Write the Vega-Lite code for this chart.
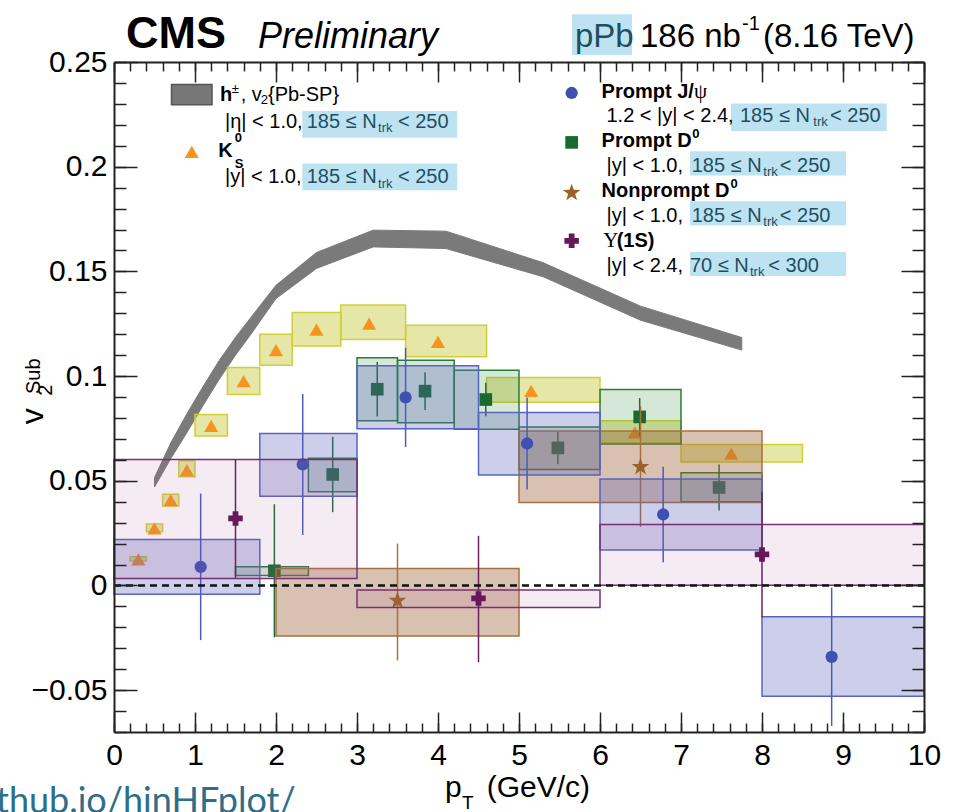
{
  "$schema": "https://vega.github.io/schema/vega-lite/v6.json",
  "width": 810,
  "height": 670,
  "autosize": {"type": "none"},
  "padding": {"left": 114, "top": 62, "right": 29, "bottom": 80},
  "background": "white",
  "config": {"view": {"stroke": null}, "font": "Liberation Sans"},
  "datasets": {
    "band": [
      {"x": 0.5, "lo": 0.047, "hi": 0.0515},
      {"x": 0.7, "lo": 0.0605, "hi": 0.068},
      {"x": 0.9, "lo": 0.073, "hi": 0.082},
      {"x": 1.1, "lo": 0.086, "hi": 0.095},
      {"x": 1.3, "lo": 0.0985, "hi": 0.1075},
      {"x": 1.5, "lo": 0.11, "hi": 0.1185},
      {"x": 1.7, "lo": 0.1205, "hi": 0.1285},
      {"x": 2.0, "lo": 0.137, "hi": 0.1434},
      {"x": 2.5, "lo": 0.1514, "hi": 0.159},
      {"x": 3.2, "lo": 0.1617, "hi": 0.1697},
      {"x": 4.1, "lo": 0.1609, "hi": 0.1692},
      {"x": 5.3, "lo": 0.1474, "hi": 0.1541},
      {"x": 6.5, "lo": 0.1267, "hi": 0.1334},
      {"x": 7.75, "lo": 0.1124, "hi": 0.1184}
    ],
    "ks": [
      {"x": 0.3, "y": 0.0124, "x1": 0.2, "x2": 0.4, "s1": 0.0117, "s2": 0.0137},
      {"x": 0.5, "y": 0.0272, "x1": 0.4, "x2": 0.6, "s1": 0.0256, "s2": 0.0293},
      {"x": 0.7, "y": 0.0407, "x1": 0.6, "x2": 0.8, "s1": 0.0379, "s2": 0.0435},
      {"x": 0.9, "y": 0.0551, "x1": 0.8, "x2": 1.0, "s1": 0.0519, "s2": 0.0594},
      {"x": 1.2, "y": 0.0762, "x1": 1.0, "x2": 1.4, "s1": 0.0714, "s2": 0.0817},
      {"x": 1.6, "y": 0.0976, "x1": 1.4, "x2": 1.8, "s1": 0.0912, "s2": 0.1041},
      {"x": 2.0, "y": 0.1124, "x1": 1.8, "x2": 2.2, "s1": 0.1052, "s2": 0.12},
      {"x": 2.5, "y": 0.1222, "x1": 2.2, "x2": 2.8, "s1": 0.1144, "s2": 0.1304},
      {"x": 3.15, "y": 0.1251, "x1": 2.8, "x2": 3.6, "s1": 0.1175, "s2": 0.1339},
      {"x": 4.0, "y": 0.1163, "x1": 3.6, "x2": 4.6, "s1": 0.1092, "s2": 0.1243},
      {"x": 5.15, "y": 0.0929, "x1": 4.6, "x2": 6.0, "s1": 0.0875, "s2": 0.0993},
      {"x": 6.43, "y": 0.0731, "x1": 6.0, "x2": 7.0, "s1": 0.068, "s2": 0.0786},
      {"x": 7.62, "y": 0.063, "x1": 7.0, "x2": 8.5, "s1": 0.059, "s2": 0.0673},
      {"x": 0.96, "y": 0.2071}
    ],
    "d0": [
      {"x": 1.98, "y": 0.007, "lo": -0.0248, "hi": 0.0388, "x1": 1.5, "x2": 2.4, "s1": 0.0048, "s2": 0.0089},
      {"x": 2.7, "y": 0.053, "lo": 0.035, "hi": 0.071, "x1": 2.4, "x2": 3.0, "s1": 0.0447, "s2": 0.0607},
      {"x": 3.25, "y": 0.0937, "lo": 0.0807, "hi": 0.1067, "x1": 3.0, "x2": 3.5, "s1": 0.0787, "s2": 0.1087},
      {"x": 3.84, "y": 0.0928, "lo": 0.0838, "hi": 0.1018, "x1": 3.5, "x2": 4.2, "s1": 0.0777, "s2": 0.1076},
      {"x": 4.59, "y": 0.0888, "lo": 0.0808, "hi": 0.0968, "x1": 4.2, "x2": 5.0, "s1": 0.0746, "s2": 0.1028},
      {"x": 5.48, "y": 0.0657, "lo": 0.0579, "hi": 0.0735, "x1": 5.0, "x2": 6.0, "s1": 0.0554, "s2": 0.0757},
      {"x": 6.49, "y": 0.0805, "lo": 0.0715, "hi": 0.0895, "x1": 6.0, "x2": 7.0, "s1": 0.0675, "s2": 0.0936},
      {"x": 7.47, "y": 0.0468, "lo": 0.0358, "hi": 0.0578, "x1": 7.0, "x2": 8.0, "s1": 0.04, "s2": 0.0538},
      {"x": 5.65, "y": 0.2116}
    ],
    "np": [
      {"x": 3.5, "y": -0.0073, "lo": -0.0358, "hi": 0.02, "x1": 2.0, "x2": 5.0, "s1": -0.0242, "s2": 0.0081},
      {"x": 6.5, "y": 0.0566, "lo": 0.028, "hi": 0.0856, "x1": 5.0, "x2": 8.0, "s1": 0.0396, "s2": 0.0738},
      {"x": 5.65, "y": 0.1875}
    ],
    "jpsi": [
      {"x": 1.07, "y": 0.0089, "lo": -0.0261, "hi": 0.0439, "x1": 0.0, "x2": 1.8, "s1": -0.0042, "s2": 0.022},
      {"x": 2.33, "y": 0.0578, "lo": 0.0241, "hi": 0.0915, "x1": 1.8, "x2": 3.0, "s1": 0.0426, "s2": 0.0726},
      {"x": 3.6, "y": 0.0898, "lo": 0.0661, "hi": 0.1135, "x1": 3.0, "x2": 4.5, "s1": 0.0748, "s2": 0.1049},
      {"x": 5.1, "y": 0.0678, "lo": 0.0458, "hi": 0.0898, "x1": 4.5, "x2": 6.0, "s1": 0.0528, "s2": 0.0826},
      {"x": 6.78, "y": 0.0339, "lo": 0.0111, "hi": 0.0567, "x1": 6.0, "x2": 8.0, "s1": 0.0169, "s2": 0.0508},
      {"x": 8.86, "y": -0.0341, "lo": -0.0671, "hi": -0.0011, "x1": 8.0, "x2": 10.0, "s1": -0.0529, "s2": -0.015},
      {"x": 5.65, "y": 0.2352}
    ],
    "ups": [
      {"x": 1.5, "y": 0.032, "lo": 0.0036, "hi": 0.0602, "x1": 0.0, "x2": 3.0, "s1": 0.0033, "s2": 0.0602},
      {"x": 4.5, "y": -0.0062, "lo": -0.0367, "hi": 0.0237, "x1": 3.0, "x2": 6.0, "s1": -0.0105, "s2": -0.0022},
      {"x": 8.0, "y": 0.0148, "lo": -0.0152, "hi": 0.0448, "x1": 6.0, "x2": 10.0, "s1": 0.0001, "s2": 0.0291},
      {"x": 5.65, "y": 0.1646}
    ],
    "zero": [{"x": 0, "x2": 10, "y": 0}],
    "bandKey": [{"x1": 0.71, "x2": 1.21, "s1": 0.2296, "s2": 0.2393}],
    "highlight": [
      {"x1": 2.325, "x2": 4.238, "s1": 0.2138, "s2": 0.2266},
      {"x1": 2.325, "x2": 4.238, "s1": 0.1888, "s2": 0.2015},
      {"x1": 7.617, "x2": 9.539, "s1": 0.2171, "s2": 0.2302},
      {"x1": 7.111, "x2": 9.037, "s1": 0.1958, "s2": 0.2074},
      {"x1": 7.111, "x2": 9.037, "s1": 0.172, "s2": 0.1835},
      {"x1": 7.111, "x2": 9.037, "s1": 0.1478, "s2": 0.1593},
      {"x1": 5.654, "x2": 6.395, "s1": 0.2533, "s2": 0.2728}
    ],
    "cms": [{"x": 0.148, "y": 0.2566, "t": "CMS"}],
    "prelim": [{"x": 1.778, "y": 0.2566, "t": "Preliminary"}],
    "system": [{"x": 5.691, "y": 0.2571, "t": "pPb"}],
    "lumi": [
      {"x": 6.494, "y": 0.2571, "t": "186 nb"},
      {"x": 8.012, "y": 0.2571, "t": "(8.16 TeV)"}
    ],
    "lumiSup": [{"x": 7.753, "y": 0.2652, "t": "-1"}],
    "xTitle": [
      {"x": 4.086, "y": -0.1011, "t": "p"},
      {"x": 4.601, "y": -0.1011, "t": "(GeV/c)"}
    ],
    "xTitleSub": [{"x": 4.296, "y": -0.1068, "t": "T"}],
    "yTitle": [{"x": -0.877, "y": 0.077, "t": "v"}],
    "yTitleSmall": [
      {"x": -0.765, "y": 0.0906, "t": "2"},
      {"x": -0.914, "y": 0.0914, "t": "Sub"}
    ],
    "legBold": [
      {"x": 1.309, "y": 0.2314, "t": "h"},
      {"x": 1.287, "y": 0.2044, "t": "K"},
      {"x": 6.02, "y": 0.2326, "t": "Prompt J/"},
      {"x": 6.02, "y": 0.2092, "t": "Prompt D"},
      {"x": 6.02, "y": 0.1856, "t": "Nonprompt D"},
      {"x": 6.206, "y": 0.1617, "t": "(1S)"}
    ],
    "legBoldSmall": [
      {"x": 1.49, "y": 0.2117, "t": "0"},
      {"x": 1.49, "y": 0.1996, "t": "S"},
      {"x": 7.14, "y": 0.2135, "t": "0"},
      {"x": 7.61, "y": 0.1896, "t": "0"}
    ],
    "legText": [
      {"x": 1.564, "y": 0.2314, "t": ", v"},
      {"x": 1.901, "y": 0.2314, "t": "{Pb-SP}"},
      {"x": 1.37, "y": 0.2187, "t": "|η| < 1.0,"},
      {"x": 1.37, "y": 0.192, "t": "|y| < 1.0,"},
      {"x": 6.08, "y": 0.2214, "t": "1.2 < |y| < 2.4,"},
      {"x": 6.08, "y": 0.1975, "t": "|y| < 1.0,"},
      {"x": 6.08, "y": 0.1737, "t": "|y| < 1.0,"},
      {"x": 6.08, "y": 0.1498, "t": "|y| < 2.4,"}
    ],
    "legSmall": [
      {"x": 1.811, "y": 0.2298, "t": "2"},
      {"x": 1.453, "y": 0.235, "t": "±"}
    ],
    "legSerif": [
      {"x": 7.16, "y": 0.2326, "t": "ψ"},
      {"x": 6.041, "y": 0.1617, "t": "Υ"}
    ],
    "hlText": [
      {"x": 2.379, "y": 0.2187, "t": "185 ≤ N"},
      {"x": 3.506, "y": 0.2187, "t": "< 250"},
      {"x": 2.379, "y": 0.192, "t": "185 ≤ N"},
      {"x": 3.506, "y": 0.192, "t": "< 250"},
      {"x": 7.728, "y": 0.2214, "t": "185 ≤ N"},
      {"x": 8.84, "y": 0.2214, "t": "< 250"},
      {"x": 7.132, "y": 0.1975, "t": "185 ≤ N"},
      {"x": 8.22, "y": 0.1975, "t": "< 250"},
      {"x": 7.132, "y": 0.1737, "t": "185 ≤ N"},
      {"x": 8.22, "y": 0.1737, "t": "< 250"},
      {"x": 7.111, "y": 0.1498, "t": "70 ≤ N"},
      {"x": 8.078, "y": 0.1498, "t": "< 300"}
    ],
    "hlSmall": [
      {"x": 3.26, "y": 0.2166, "t": "trk"},
      {"x": 3.26, "y": 0.1899, "t": "trk"},
      {"x": 8.633, "y": 0.2193, "t": "trk"},
      {"x": 8.016, "y": 0.1954, "t": "trk"},
      {"x": 8.016, "y": 0.1716, "t": "trk"},
      {"x": 7.852, "y": 0.1477, "t": "trk"}
    ],
    "link": [{"x": -1.457, "y": -0.1087, "t": "thub.io/hinHFplot/"}]
  },
  "layer": [
    {
      "data": {"name": "band"},
      "mark": {"type": "area", "color": "#7a7a7a", "stroke": "#7a7a7a", "strokeWidth": 1},
      "encoding": {
        "x": {"field": "x", "type": "quantitative", "scale": {"domain": [0, 10], "nice": false, "zero": false},
          "axis": {"orient": "bottom", "values": [0, 1, 2, 3, 4, 5, 6, 7, 8, 9, 10], "format": "d", "ticks": false, "domain": false, "grid": false, "title": null, "labelFont": "Liberation Sans", "labelFontSize": 30, "labelColor": "#000", "labelPadding": 8, "labelFlush": false, "labelOverlap": false, "labelBound": false}},
        "y": {"field": "lo", "type": "quantitative", "scale": {"domain": [-0.07, 0.25], "nice": false, "zero": false},
          "axis": {"orient": "left", "values": [-0.05, 0, 0.05, 0.1, 0.15, 0.2, 0.25], "format": ".2~f", "ticks": false, "domain": false, "grid": false, "title": null, "labelFont": "Liberation Sans", "labelFontSize": 30, "labelColor": "#000", "labelPadding": 7, "labelFlush": false, "labelOverlap": false, "labelBound": false}},
        "y2": {"field": "hi"}
      }
    },
    {
      "data": {"name": "highlight"},
      "mark": {"type": "rect", "color": "#bde3f3"},
      "encoding": {
        "x": {"field": "x1", "type": "quantitative", "scale": {"domain": [0, 10], "nice": false, "zero": false}, "axis": null},
        "x2": {"field": "x2"},
        "y": {"field": "s1", "type": "quantitative", "scale": {"domain": [-0.07, 0.25], "nice": false, "zero": false}, "axis": null},
        "y2": {"field": "s2"}
      }
    },
    {
      "data": {"name": "ks"},
      "transform": [{"filter": "isValid(datum.x1)"}],
      "mark": {"type": "rect", "fill": "#b8b800", "fillOpacity": 0.35, "stroke": "#cfcf3a", "strokeWidth": 1.5},
      "encoding": {
        "x": {"field": "x1", "type": "quantitative", "scale": {"domain": [0, 10], "nice": false, "zero": false},
          "axis": {"orient": "bottom", "values": [0, 1, 2, 3, 4, 5, 6, 7, 8, 9, 10], "labels": false, "ticks": true, "tickSize": -20, "tickWidth": 1.5, "tickColor": "#222", "domain": true, "domainColor": "#222", "domainWidth": 2, "grid": false, "title": null, "zindex": 1}},
        "x2": {"field": "x2"},
        "y": {"field": "s1", "type": "quantitative", "scale": {"domain": [-0.07, 0.25], "nice": false, "zero": false},
          "axis": {"orient": "left", "values": [-0.05, 0, 0.05, 0.1, 0.15, 0.2, 0.25], "labels": false, "ticks": true, "tickSize": -23, "tickWidth": 1.5, "tickColor": "#222", "domain": true, "domainColor": "#222", "domainWidth": 2, "grid": false, "title": null, "zindex": 1}},
        "y2": {"field": "s2"}
      }
    },
    {
      "data": {"name": "ks"},
      "mark": {"type": "point", "shape": "triangle-up", "filled": true, "color": "#f7941d", "size": 200, "opacity": 1, "strokeWidth": 0},
      "encoding": {
        "x": {"field": "x", "type": "quantitative", "scale": {"domain": [0, 10], "nice": false, "zero": false},
          "axis": {"orient": "bottom", "values": [0, 0.2, 0.4, 0.6, 0.8, 1, 1.2, 1.4, 1.6, 1.8, 2, 2.2, 2.4, 2.6, 2.8, 3, 3.2, 3.4, 3.6, 3.8, 4, 4.2, 4.4, 4.6, 4.8, 5, 5.2, 5.4, 5.6, 5.8, 6, 6.2, 6.4, 6.6, 6.8, 7, 7.2, 7.4, 7.6, 7.8, 8, 8.2, 8.4, 8.6, 8.8, 9, 9.2, 9.4, 9.6, 9.8, 10], "labels": false, "ticks": true, "tickSize": -9, "tickWidth": 1.5, "tickColor": "#222", "domain": false, "grid": false, "title": null, "zindex": 1}},
        "y": {"field": "y", "type": "quantitative", "scale": {"domain": [-0.07, 0.25], "nice": false, "zero": false},
          "axis": {"orient": "left", "values": [-0.07, -0.06, -0.05, -0.04, -0.03, -0.02, -0.01, 0, 0.01, 0.02, 0.03, 0.04, 0.05, 0.06, 0.07, 0.08, 0.09, 0.1, 0.11, 0.12, 0.13, 0.14, 0.15, 0.16, 0.17, 0.18, 0.19, 0.2, 0.21, 0.22, 0.23, 0.24, 0.25], "labels": false, "ticks": true, "tickSize": -12, "tickWidth": 1.5, "tickColor": "#222", "domain": false, "grid": false, "title": null, "zindex": 1}}
      }
    },
    {
      "data": {"name": "d0"},
      "transform": [{"filter": "isValid(datum.x1)"}],
      "mark": {"type": "rect", "fill": "#2e8b3e", "fillOpacity": 0.2, "stroke": "#2b7b3b", "strokeWidth": 1.5},
      "encoding": {
        "x": {"field": "x1", "type": "quantitative", "scale": {"domain": [0, 10], "nice": false, "zero": false}, "axis": null},
        "x2": {"field": "x2"},
        "y": {"field": "s1", "type": "quantitative", "scale": {"domain": [-0.07, 0.25], "nice": false, "zero": false}, "axis": null},
        "y2": {"field": "s2"}
      }
    },
    {
      "data": {"name": "d0"},
      "transform": [{"filter": "isValid(datum.lo)"}],
      "mark": {"type": "rule", "color": "#1f6e35", "strokeWidth": 1.5},
      "encoding": {
        "x": {"field": "x", "type": "quantitative", "scale": {"domain": [0, 10], "nice": false, "zero": false}, "axis": null},
        "y": {"field": "lo", "type": "quantitative", "scale": {"domain": [-0.07, 0.25], "nice": false, "zero": false}, "axis": null},
        "y2": {"field": "hi"}
      }
    },
    {
      "data": {"name": "d0"},
      "mark": {"type": "point", "shape": "square", "filled": true, "color": "#1a6a30", "size": 160, "opacity": 1, "strokeWidth": 0},
      "encoding": {
        "x": {"field": "x", "type": "quantitative", "scale": {"domain": [0, 10], "nice": false, "zero": false}, "axis": null},
        "y": {"field": "y", "type": "quantitative", "scale": {"domain": [-0.07, 0.25], "nice": false, "zero": false}, "axis": null}
      }
    },
    {
      "data": {"name": "np"},
      "transform": [{"filter": "isValid(datum.x1)"}],
      "mark": {"type": "rect", "fill": "#a0643c", "fillOpacity": 0.4, "stroke": "#a8703f", "strokeWidth": 1.5},
      "encoding": {
        "x": {"field": "x1", "type": "quantitative", "scale": {"domain": [0, 10], "nice": false, "zero": false}, "axis": null},
        "x2": {"field": "x2"},
        "y": {"field": "s1", "type": "quantitative", "scale": {"domain": [-0.07, 0.25], "nice": false, "zero": false}, "axis": null},
        "y2": {"field": "s2"}
      }
    },
    {
      "data": {"name": "np"},
      "transform": [{"filter": "isValid(datum.lo)"}],
      "mark": {"type": "rule", "color": "#a8703f", "strokeWidth": 1.5},
      "encoding": {
        "x": {"field": "x", "type": "quantitative", "scale": {"domain": [0, 10], "nice": false, "zero": false}, "axis": null},
        "y": {"field": "lo", "type": "quantitative", "scale": {"domain": [-0.07, 0.25], "nice": false, "zero": false}, "axis": null},
        "y2": {"field": "hi"}
      }
    },
    {
      "data": {"name": "np"},
      "mark": {"type": "point", "shape": "M0,-1L0.235,-0.324L0.951,-0.309L0.38,0.124L0.588,0.809L0,0.4L-0.588,0.809L-0.38,0.124L-0.951,-0.309L-0.235,-0.324Z", "filled": true, "color": "#9a6229", "size": 340, "opacity": 1, "strokeWidth": 0},
      "encoding": {
        "x": {"field": "x", "type": "quantitative", "scale": {"domain": [0, 10], "nice": false, "zero": false}, "axis": null},
        "y": {"field": "y", "type": "quantitative", "scale": {"domain": [-0.07, 0.25], "nice": false, "zero": false}, "axis": null}
      }
    },
    {
      "data": {"name": "jpsi"},
      "transform": [{"filter": "isValid(datum.x1)"}],
      "mark": {"type": "rect", "fill": "#5a5fb8", "fillOpacity": 0.3, "stroke": "#5764c2", "strokeWidth": 1.5},
      "encoding": {
        "x": {"field": "x1", "type": "quantitative", "scale": {"domain": [0, 10], "nice": false, "zero": false}, "axis": null},
        "x2": {"field": "x2"},
        "y": {"field": "s1", "type": "quantitative", "scale": {"domain": [-0.07, 0.25], "nice": false, "zero": false}, "axis": null},
        "y2": {"field": "s2"}
      }
    },
    {
      "data": {"name": "jpsi"},
      "transform": [{"filter": "isValid(datum.lo)"}],
      "mark": {"type": "rule", "color": "#4b5bc0", "strokeWidth": 1.5},
      "encoding": {
        "x": {"field": "x", "type": "quantitative", "scale": {"domain": [0, 10], "nice": false, "zero": false}, "axis": null},
        "y": {"field": "lo", "type": "quantitative", "scale": {"domain": [-0.07, 0.25], "nice": false, "zero": false}, "axis": null},
        "y2": {"field": "hi"}
      }
    },
    {
      "data": {"name": "jpsi"},
      "mark": {"type": "point", "shape": "circle", "filled": true, "color": "#3f51b0", "size": 150, "opacity": 1, "strokeWidth": 0},
      "encoding": {
        "x": {"field": "x", "type": "quantitative", "scale": {"domain": [0, 10], "nice": false, "zero": false}, "axis": null},
        "y": {"field": "y", "type": "quantitative", "scale": {"domain": [-0.07, 0.25], "nice": false, "zero": false}, "axis": null}
      }
    },
    {
      "data": {"name": "ups"},
      "transform": [{"filter": "isValid(datum.x1)"}],
      "mark": {"type": "rect", "fill": "#b0589e", "fillOpacity": 0.12, "stroke": "#7a2f73", "strokeWidth": 1.5},
      "encoding": {
        "x": {"field": "x1", "type": "quantitative", "scale": {"domain": [0, 10], "nice": false, "zero": false},
          "axis": {"orient": "top", "values": [0, 1, 2, 3, 4, 5, 6, 7, 8, 9, 10], "labels": false, "ticks": true, "tickSize": -20, "tickWidth": 1.5, "tickColor": "#222", "domain": true, "domainColor": "#222", "domainWidth": 2, "grid": false, "title": null, "zindex": 1}},
        "x2": {"field": "x2"},
        "y": {"field": "s1", "type": "quantitative", "scale": {"domain": [-0.07, 0.25], "nice": false, "zero": false},
          "axis": {"orient": "right", "values": [-0.05, 0, 0.05, 0.1, 0.15, 0.2, 0.25], "labels": false, "ticks": true, "tickSize": -23, "tickWidth": 1.5, "tickColor": "#222", "domain": true, "domainColor": "#222", "domainWidth": 2, "grid": false, "title": null, "zindex": 1}},
        "y2": {"field": "s2"}
      }
    },
    {
      "data": {"name": "ups"},
      "transform": [{"filter": "isValid(datum.lo)"}],
      "mark": {"type": "rule", "color": "#6a1f5f", "strokeWidth": 1.5},
      "encoding": {
        "x": {"field": "x", "type": "quantitative", "scale": {"domain": [0, 10], "nice": false, "zero": false}, "axis": null},
        "y": {"field": "lo", "type": "quantitative", "scale": {"domain": [-0.07, 0.25], "nice": false, "zero": false}, "axis": null},
        "y2": {"field": "hi"}
      }
    },
    {
      "data": {"name": "ups"},
      "mark": {"type": "point", "shape": "cross", "filled": true, "color": "#65195a", "size": 210, "opacity": 1, "strokeWidth": 0},
      "encoding": {
        "x": {"field": "x", "type": "quantitative", "scale": {"domain": [0, 10], "nice": false, "zero": false},
          "axis": {"orient": "top", "values": [0, 0.2, 0.4, 0.6, 0.8, 1, 1.2, 1.4, 1.6, 1.8, 2, 2.2, 2.4, 2.6, 2.8, 3, 3.2, 3.4, 3.6, 3.8, 4, 4.2, 4.4, 4.6, 4.8, 5, 5.2, 5.4, 5.6, 5.8, 6, 6.2, 6.4, 6.6, 6.8, 7, 7.2, 7.4, 7.6, 7.8, 8, 8.2, 8.4, 8.6, 8.8, 9, 9.2, 9.4, 9.6, 9.8, 10], "labels": false, "ticks": true, "tickSize": -9, "tickWidth": 1.5, "tickColor": "#222", "domain": false, "grid": false, "title": null, "zindex": 1}},
        "y": {"field": "y", "type": "quantitative", "scale": {"domain": [-0.07, 0.25], "nice": false, "zero": false},
          "axis": {"orient": "right", "values": [-0.07, -0.06, -0.05, -0.04, -0.03, -0.02, -0.01, 0, 0.01, 0.02, 0.03, 0.04, 0.05, 0.06, 0.07, 0.08, 0.09, 0.1, 0.11, 0.12, 0.13, 0.14, 0.15, 0.16, 0.17, 0.18, 0.19, 0.2, 0.21, 0.22, 0.23, 0.24, 0.25], "labels": false, "ticks": true, "tickSize": -12, "tickWidth": 1.5, "tickColor": "#222", "domain": false, "grid": false, "title": null, "zindex": 1}}
      }
    },
    {
      "data": {"name": "zero"},
      "mark": {"type": "rule", "color": "#111", "strokeWidth": 2.5, "strokeDash": [7, 5]},
      "encoding": {
        "x": {"field": "x", "type": "quantitative", "scale": {"domain": [0, 10], "nice": false, "zero": false}, "axis": null},
        "x2": {"field": "x2"},
        "y": {"field": "y", "type": "quantitative", "scale": {"domain": [-0.07, 0.25], "nice": false, "zero": false}, "axis": null}
      }
    },
    {
      "data": {"name": "bandKey"},
      "mark": {"type": "rect", "fill": "#777777", "stroke": "#555555", "strokeWidth": 1.5},
      "encoding": {
        "x": {"field": "x1", "type": "quantitative", "scale": {"domain": [0, 10], "nice": false, "zero": false}, "axis": null},
        "x2": {"field": "x2"},
        "y": {"field": "s1", "type": "quantitative", "scale": {"domain": [-0.07, 0.25], "nice": false, "zero": false}, "axis": null},
        "y2": {"field": "s2"}
      }
    },
    {
      "data": {"name": "cms"},
      "mark": {"type": "text", "align": "left", "baseline": "alphabetic", "font": "Liberation Sans", "fontSize": 45, "fontWeight": "bold", "color": "#000"},
      "encoding": {
        "x": {"field": "x", "type": "quantitative", "scale": {"domain": [0, 10], "nice": false, "zero": false}, "axis": null},
        "y": {"field": "y", "type": "quantitative", "scale": {"domain": [-0.07, 0.25], "nice": false, "zero": false}, "axis": null},
        "text": {"field": "t"}
      }
    },
    {
      "data": {"name": "prelim"},
      "mark": {"type": "text", "align": "left", "baseline": "alphabetic", "font": "Liberation Sans", "fontSize": 36, "fontStyle": "italic", "color": "#000"},
      "encoding": {
        "x": {"field": "x", "type": "quantitative", "scale": {"domain": [0, 10], "nice": false, "zero": false}, "axis": null},
        "y": {"field": "y", "type": "quantitative", "scale": {"domain": [-0.07, 0.25], "nice": false, "zero": false}, "axis": null},
        "text": {"field": "t"}
      }
    },
    {
      "data": {"name": "system"},
      "mark": {"type": "text", "align": "left", "baseline": "alphabetic", "font": "Liberation Sans", "fontSize": 33, "color": "#1f4f5e"},
      "encoding": {
        "x": {"field": "x", "type": "quantitative", "scale": {"domain": [0, 10], "nice": false, "zero": false}, "axis": null},
        "y": {"field": "y", "type": "quantitative", "scale": {"domain": [-0.07, 0.25], "nice": false, "zero": false}, "axis": null},
        "text": {"field": "t"}
      }
    },
    {
      "data": {"name": "lumi"},
      "mark": {"type": "text", "align": "left", "baseline": "alphabetic", "font": "Liberation Sans", "fontSize": 33, "color": "#000"},
      "encoding": {
        "x": {"field": "x", "type": "quantitative", "scale": {"domain": [0, 10], "nice": false, "zero": false}, "axis": null},
        "y": {"field": "y", "type": "quantitative", "scale": {"domain": [-0.07, 0.25], "nice": false, "zero": false}, "axis": null},
        "text": {"field": "t"}
      }
    },
    {
      "data": {"name": "lumiSup"},
      "mark": {"type": "text", "align": "left", "baseline": "alphabetic", "font": "Liberation Sans", "fontSize": 20, "color": "#000"},
      "encoding": {
        "x": {"field": "x", "type": "quantitative", "scale": {"domain": [0, 10], "nice": false, "zero": false}, "axis": null},
        "y": {"field": "y", "type": "quantitative", "scale": {"domain": [-0.07, 0.25], "nice": false, "zero": false}, "axis": null},
        "text": {"field": "t"}
      }
    },
    {
      "data": {"name": "xTitle"},
      "mark": {"type": "text", "align": "left", "baseline": "alphabetic", "font": "Liberation Sans", "fontSize": 30, "color": "#000"},
      "encoding": {
        "x": {"field": "x", "type": "quantitative", "scale": {"domain": [0, 10], "nice": false, "zero": false}, "axis": null},
        "y": {"field": "y", "type": "quantitative", "scale": {"domain": [-0.07, 0.25], "nice": false, "zero": false}, "axis": null},
        "text": {"field": "t"}
      }
    },
    {
      "data": {"name": "xTitleSub"},
      "mark": {"type": "text", "align": "left", "baseline": "alphabetic", "font": "Liberation Sans", "fontSize": 19, "color": "#000"},
      "encoding": {
        "x": {"field": "x", "type": "quantitative", "scale": {"domain": [0, 10], "nice": false, "zero": false}, "axis": null},
        "y": {"field": "y", "type": "quantitative", "scale": {"domain": [-0.07, 0.25], "nice": false, "zero": false}, "axis": null},
        "text": {"field": "t"}
      }
    },
    {
      "data": {"name": "yTitle"},
      "mark": {"type": "text", "align": "left", "baseline": "alphabetic", "angle": 270, "font": "Liberation Sans", "fontSize": 32, "color": "#000"},
      "encoding": {
        "x": {"field": "x", "type": "quantitative", "scale": {"domain": [0, 10], "nice": false, "zero": false}, "axis": null},
        "y": {"field": "y", "type": "quantitative", "scale": {"domain": [-0.07, 0.25], "nice": false, "zero": false}, "axis": null},
        "text": {"field": "t"}
      }
    },
    {
      "data": {"name": "yTitleSmall"},
      "mark": {"type": "text", "align": "left", "baseline": "alphabetic", "angle": 270, "font": "Liberation Sans", "fontSize": 20, "color": "#000"},
      "encoding": {
        "x": {"field": "x", "type": "quantitative", "scale": {"domain": [0, 10], "nice": false, "zero": false}, "axis": null},
        "y": {"field": "y", "type": "quantitative", "scale": {"domain": [-0.07, 0.25], "nice": false, "zero": false}, "axis": null},
        "text": {"field": "t"}
      }
    },
    {
      "data": {"name": "legBold"},
      "mark": {"type": "text", "align": "left", "baseline": "alphabetic", "font": "Liberation Sans", "fontSize": 20, "fontWeight": "bold", "color": "#000"},
      "encoding": {
        "x": {"field": "x", "type": "quantitative", "scale": {"domain": [0, 10], "nice": false, "zero": false}, "axis": null},
        "y": {"field": "y", "type": "quantitative", "scale": {"domain": [-0.07, 0.25], "nice": false, "zero": false}, "axis": null},
        "text": {"field": "t"}
      }
    },
    {
      "data": {"name": "legBoldSmall"},
      "mark": {"type": "text", "align": "left", "baseline": "alphabetic", "font": "Liberation Sans", "fontSize": 13, "fontWeight": "bold", "color": "#000"},
      "encoding": {
        "x": {"field": "x", "type": "quantitative", "scale": {"domain": [0, 10], "nice": false, "zero": false}, "axis": null},
        "y": {"field": "y", "type": "quantitative", "scale": {"domain": [-0.07, 0.25], "nice": false, "zero": false}, "axis": null},
        "text": {"field": "t"}
      }
    },
    {
      "data": {"name": "legText"},
      "mark": {"type": "text", "align": "left", "baseline": "alphabetic", "font": "Liberation Sans", "fontSize": 20, "color": "#000"},
      "encoding": {
        "x": {"field": "x", "type": "quantitative", "scale": {"domain": [0, 10], "nice": false, "zero": false}, "axis": null},
        "y": {"field": "y", "type": "quantitative", "scale": {"domain": [-0.07, 0.25], "nice": false, "zero": false}, "axis": null},
        "text": {"field": "t"}
      }
    },
    {
      "data": {"name": "legSmall"},
      "mark": {"type": "text", "align": "left", "baseline": "alphabetic", "font": "Liberation Sans", "fontSize": 13, "color": "#000"},
      "encoding": {
        "x": {"field": "x", "type": "quantitative", "scale": {"domain": [0, 10], "nice": false, "zero": false}, "axis": null},
        "y": {"field": "y", "type": "quantitative", "scale": {"domain": [-0.07, 0.25], "nice": false, "zero": false}, "axis": null},
        "text": {"field": "t"}
      }
    },
    {
      "data": {"name": "legSerif"},
      "mark": {"type": "text", "align": "left", "baseline": "alphabetic", "font": "Liberation Serif", "fontSize": 21, "color": "#000"},
      "encoding": {
        "x": {"field": "x", "type": "quantitative", "scale": {"domain": [0, 10], "nice": false, "zero": false}, "axis": null},
        "y": {"field": "y", "type": "quantitative", "scale": {"domain": [-0.07, 0.25], "nice": false, "zero": false}, "axis": null},
        "text": {"field": "t"}
      }
    },
    {
      "data": {"name": "hlText"},
      "mark": {"type": "text", "align": "left", "baseline": "alphabetic", "font": "Liberation Sans", "fontSize": 20, "color": "#1f4f5e"},
      "encoding": {
        "x": {"field": "x", "type": "quantitative", "scale": {"domain": [0, 10], "nice": false, "zero": false}, "axis": null},
        "y": {"field": "y", "type": "quantitative", "scale": {"domain": [-0.07, 0.25], "nice": false, "zero": false}, "axis": null},
        "text": {"field": "t"}
      }
    },
    {
      "data": {"name": "hlSmall"},
      "mark": {"type": "text", "align": "left", "baseline": "alphabetic", "font": "Liberation Sans", "fontSize": 13, "color": "#1f4f5e"},
      "encoding": {
        "x": {"field": "x", "type": "quantitative", "scale": {"domain": [0, 10], "nice": false, "zero": false}, "axis": null},
        "y": {"field": "y", "type": "quantitative", "scale": {"domain": [-0.07, 0.25], "nice": false, "zero": false}, "axis": null},
        "text": {"field": "t"}
      }
    },
    {
      "data": {"name": "link"},
      "mark": {"type": "text", "align": "left", "baseline": "alphabetic", "font": "Lato", "fontSize": 36, "color": "#2f6e89"},
      "encoding": {
        "x": {"field": "x", "type": "quantitative", "scale": {"domain": [0, 10], "nice": false, "zero": false}, "axis": null},
        "y": {"field": "y", "type": "quantitative", "scale": {"domain": [-0.07, 0.25], "nice": false, "zero": false}, "axis": null},
        "text": {"field": "t"}
      }
    }
  ],
  "resolve": {"axis": {"x": "independent", "y": "independent"}}
}
